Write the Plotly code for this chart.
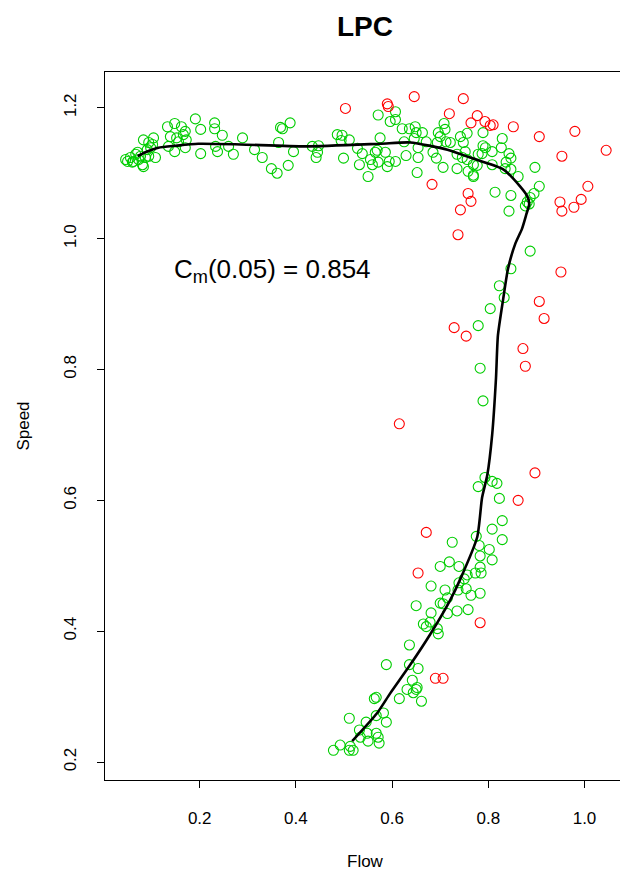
import plotly.graph_objects as go

# Points inside the band (green)
green_flow = [0.046, 0.056, 0.067, 0.062, 0.073, 0.081, 0.083, 0.071, 0.077, 0.087, 0.094, 0.091, 0.098, 0.102,
              0.094, 0.083, 0.104, 0.108, 0.060, 0.050, 0.133, 0.148, 0.162, 0.139, 0.152, 0.166, 0.170, 0.172,
              0.156, 0.191, 0.202, 0.231, 0.231, 0.247, 0.289, 0.233, 0.237, 0.260, 0.270, 0.202, 0.170, 0.148,
              0.135, 0.314, 0.330, 0.349, 0.361, 0.384, 0.395, 0.364, 0.372, 0.388, 0.368,
              0.434, 0.447, 0.445, 0.442, 0.486, 0.496, 0.494, 0.511, 0.499, 0.528, 0.538, 0.532, 0.550, 0.555,
              0.565, 0.569, 0.575, 0.586, 0.559, 0.571, 0.594, 0.590, 0.607, 0.571, 0.596, 0.607, 0.607, 0.621,
              0.636, 0.648, 0.650, 0.663, 0.646, 0.671, 0.625, 0.629, 0.654, 0.654, 0.652, 0.685, 0.692, 0.700,
              0.694, 0.708, 0.710, 0.696, 0.712, 0.721, 0.706, 0.735, 0.742, 0.756, 0.748, 0.752, 0.735, 0.746,
              0.756, 0.758, 0.769, 0.769, 0.779,
              0.789, 0.829, 0.789, 0.794, 0.787, 0.808, 0.827, 0.843, 0.847, 0.808, 0.837, 0.835, 0.847, 0.862,
              0.777, 0.769, 0.897, 0.906, 0.814, 0.847, 0.843, 0.895, 0.887, 0.881, 0.877, 0.885,
              0.887, 0.847, 0.823, 0.833, 0.804, 0.779, 0.783,
              0.789, 0.793, 0.779, 0.808, 0.818, 0.823, 0.829, 0.808,
              0.829, 0.775, 0.725, 0.781, 0.802, 0.783, 0.808, 0.719, 0.700, 0.739, 0.783, 0.773, 0.785, 0.756,
              0.750, 0.739, 0.681, 0.710, 0.737, 0.754, 0.764, 0.783, 0.715, 0.700, 0.706, 0.650, 0.715, 0.735,
              0.758, 0.681, 0.665, 0.671, 0.679, 0.694, 0.696,
              0.636, 0.588, 0.636, 0.654, 0.642, 0.652, 0.631, 0.644, 0.650, 0.615, 0.661, 0.563, 0.567, 0.511,
              0.546, 0.567, 0.582, 0.588, 0.532, 0.548, 0.567, 0.571, 0.550, 0.573, 0.534, 0.492, 0.478, 0.513,
              0.511, 0.519]
green_speed = [1.121, 1.124, 1.129, 1.118, 1.121, 1.113, 1.110, 1.132, 1.126, 1.124, 1.126, 1.136, 1.139, 1.144,
               1.147, 1.151, 1.154, 1.124, 1.117, 1.118, 1.171, 1.176, 1.171, 1.156, 1.154, 1.159, 1.164, 1.151,
               1.148, 1.183, 1.167, 1.177, 1.168, 1.158, 1.154, 1.141, 1.133, 1.141, 1.129, 1.130, 1.139, 1.133,
               1.141, 1.136, 1.124, 1.107, 1.100, 1.112, 1.133, 1.147, 1.168, 1.177, 1.170,
               1.141, 1.142, 1.132, 1.124, 1.159, 1.158, 1.150, 1.151, 1.123, 1.138, 1.130, 1.113, 1.095, 1.121,
               1.132, 1.135, 1.154, 1.132, 1.113, 1.117, 1.118, 1.110, 1.118, 1.189, 1.179, 1.194, 1.182, 1.168,
               1.168, 1.171, 1.162, 1.162, 1.153, 1.148, 1.148, 1.127, 1.139, 1.124, 1.101, 1.132, 1.123, 1.156,
               1.147, 1.176, 1.167, 1.162, 1.148, 1.147, 1.109, 1.107, 1.156, 1.161, 1.147, 1.133, 1.129, 1.124,
               1.121, 1.103, 1.097, 1.113, 1.129,
               1.162, 1.153, 1.142, 1.139, 1.130, 1.133, 1.139, 1.130, 1.123, 1.113, 1.117, 1.107, 1.106, 1.095,
               1.112, 1.095, 1.109, 1.080, 1.071, 1.066, 1.042, 1.069, 1.063, 1.056, 1.050, 1.053,
               0.981, 0.954, 0.928, 0.910, 0.893, 0.867, 0.802,
               0.752, 0.635, 0.621, 0.629, 0.626, 0.603, 0.569, 0.556,
               0.540, 0.545, 0.536, 0.531, 0.525, 0.515, 0.509, 0.506, 0.499, 0.499, 0.498, 0.489, 0.489, 0.486,
               0.480, 0.474, 0.469, 0.463, 0.463, 0.465, 0.455, 0.458, 0.451, 0.443, 0.442, 0.439, 0.427, 0.431,
               0.433, 0.428, 0.411, 0.407, 0.414, 0.404, 0.396,
               0.379, 0.349, 0.349, 0.343, 0.325, 0.314, 0.311, 0.306, 0.311, 0.297, 0.293, 0.297, 0.299, 0.267,
               0.261, 0.271, 0.275, 0.261, 0.249, 0.244, 0.244, 0.238, 0.232, 0.229, 0.238, 0.226, 0.218, 0.224,
               0.218, 0.218]

# Points outside the band (red)
red_flow = [0.503, 0.590, 0.592, 0.646, 0.748, 0.719, 0.764, 0.777, 0.683, 0.793, 0.804, 0.810, 0.852,
            0.906, 0.980, 1.045, 0.953, 1.007, 0.993, 0.978, 0.949, 0.953, 0.758, 0.764, 0.742, 0.737,
            0.951, 0.906, 0.916, 0.872, 0.877, 0.729, 0.754, 0.615, 0.897, 0.862, 0.671, 0.654, 0.783,
            0.690, 0.706]
red_speed = [1.199, 1.206, 1.202, 1.217, 1.214, 1.191, 1.177, 1.188, 1.083, 1.179, 1.173, 1.174, 1.171,
             1.156, 1.164, 1.135, 1.126, 1.080, 1.060, 1.048, 1.056, 1.042, 1.069, 1.057, 1.044, 1.006,
             0.949, 0.904, 0.878, 0.832, 0.805, 0.864, 0.851, 0.717, 0.642, 0.600, 0.551, 0.489, 0.413,
             0.328, 0.328]

# Local principal curve
curve_flow = [0.071, 0.087, 0.114, 0.150, 0.197, 0.285, 0.420, 0.575, 0.638, 0.715, 0.762, 0.831, 0.866,
              0.881, 0.885, 0.879, 0.870, 0.856, 0.841, 0.831, 0.820, 0.816, 0.808, 0.798, 0.787, 0.777,
              0.742, 0.721, 0.679, 0.638, 0.596, 0.569, 0.517]
curve_speed = [1.126, 1.132, 1.139, 1.142, 1.145, 1.144, 1.141, 1.145, 1.147, 1.136, 1.124, 1.106, 1.080,
               1.065, 1.053, 1.037, 1.015, 0.992, 0.954, 0.908, 0.852, 0.787, 0.700, 0.639, 0.604, 0.544,
               0.480, 0.448, 0.395, 0.349, 0.305, 0.275, 0.232]

x_ticks = [0.2, 0.4, 0.6, 0.8, 1.0]
y_ticks = [0.2, 0.4, 0.6, 0.8, 1.0, 1.2]

FONT = "Liberation Sans, Arial, Helvetica, sans-serif"

fig = go.Figure()
fig.add_trace(go.Scatter(x=green_flow, y=green_speed, mode="markers",
                         marker=dict(symbol="circle-open", size=10, color="#00CD00", line=dict(width=1.1)),
                         showlegend=False))
fig.add_trace(go.Scatter(x=red_flow, y=red_speed, mode="markers",
                         marker=dict(symbol="circle-open", size=10, color="#FF0000", line=dict(width=1.1)),
                         showlegend=False))
fig.add_trace(go.Scatter(x=curve_flow, y=curve_speed, mode="lines",
                         line=dict(color="black", width=2.6, shape="spline", smoothing=0.6),
                         showlegend=False))

fig.add_annotation(x=0.351, y=0.951, xref="x", yref="y", showarrow=False,
                   xanchor="center", yanchor="middle",
                   text="C<sub>m</sub>(0.05) = 0.854",
                   font=dict(family=FONT, size=26, color="black"))
fig.add_annotation(x=0.5053, y=1.0636, xref="paper", yref="paper", showarrow=False,
                   xanchor="center", yanchor="middle",
                   text="<b>LPC</b>", font=dict(family=FONT, size=28, color="black"))
fig.add_annotation(x=0.5053, y=-0.1158, xref="paper", yref="paper", showarrow=False,
                   xanchor="center", yanchor="middle",
                   text="Flow", font=dict(family=FONT, size=17, color="black"))
fig.add_annotation(x=-0.16, y=0.5, xref="paper", yref="paper", showarrow=False, textangle=-90,
                   xanchor="center", yanchor="middle",
                   text="Speed", font=dict(family=FONT, size=17, color="black"))

fig.update_layout(
    width=620, height=873,
    margin=dict(l=104.5, r=0, t=72, b=93),
    paper_bgcolor="white", plot_bgcolor="white",
    font=dict(family=FONT, size=17, color="black"),
)
fig.update_xaxes(range=[0.0031, 1.0738], tickvals=x_ticks, ticktext=[f"{v:.1f}" for v in x_ticks],
                 showgrid=False, zeroline=False, showline=True, linecolor="black", linewidth=1,
                 mirror=True, ticks="outside", ticklen=7, tickcolor="black", ticklabelstandoff=16,
                 tickfont=dict(family=FONT, size=17))
fig.update_yaxes(range=[0.1726, 1.2547], tickvals=y_ticks, ticktext=[f"{v:.1f}" for v in y_ticks],
                 showgrid=False, zeroline=False, showline=True, linecolor="black", linewidth=1,
                 ticks="outside", ticklen=7, tickcolor="black", tickangle=-90, ticklabelstandoff=14,
                 tickfont=dict(family=FONT, size=17))

fig.write_html("out.html")
